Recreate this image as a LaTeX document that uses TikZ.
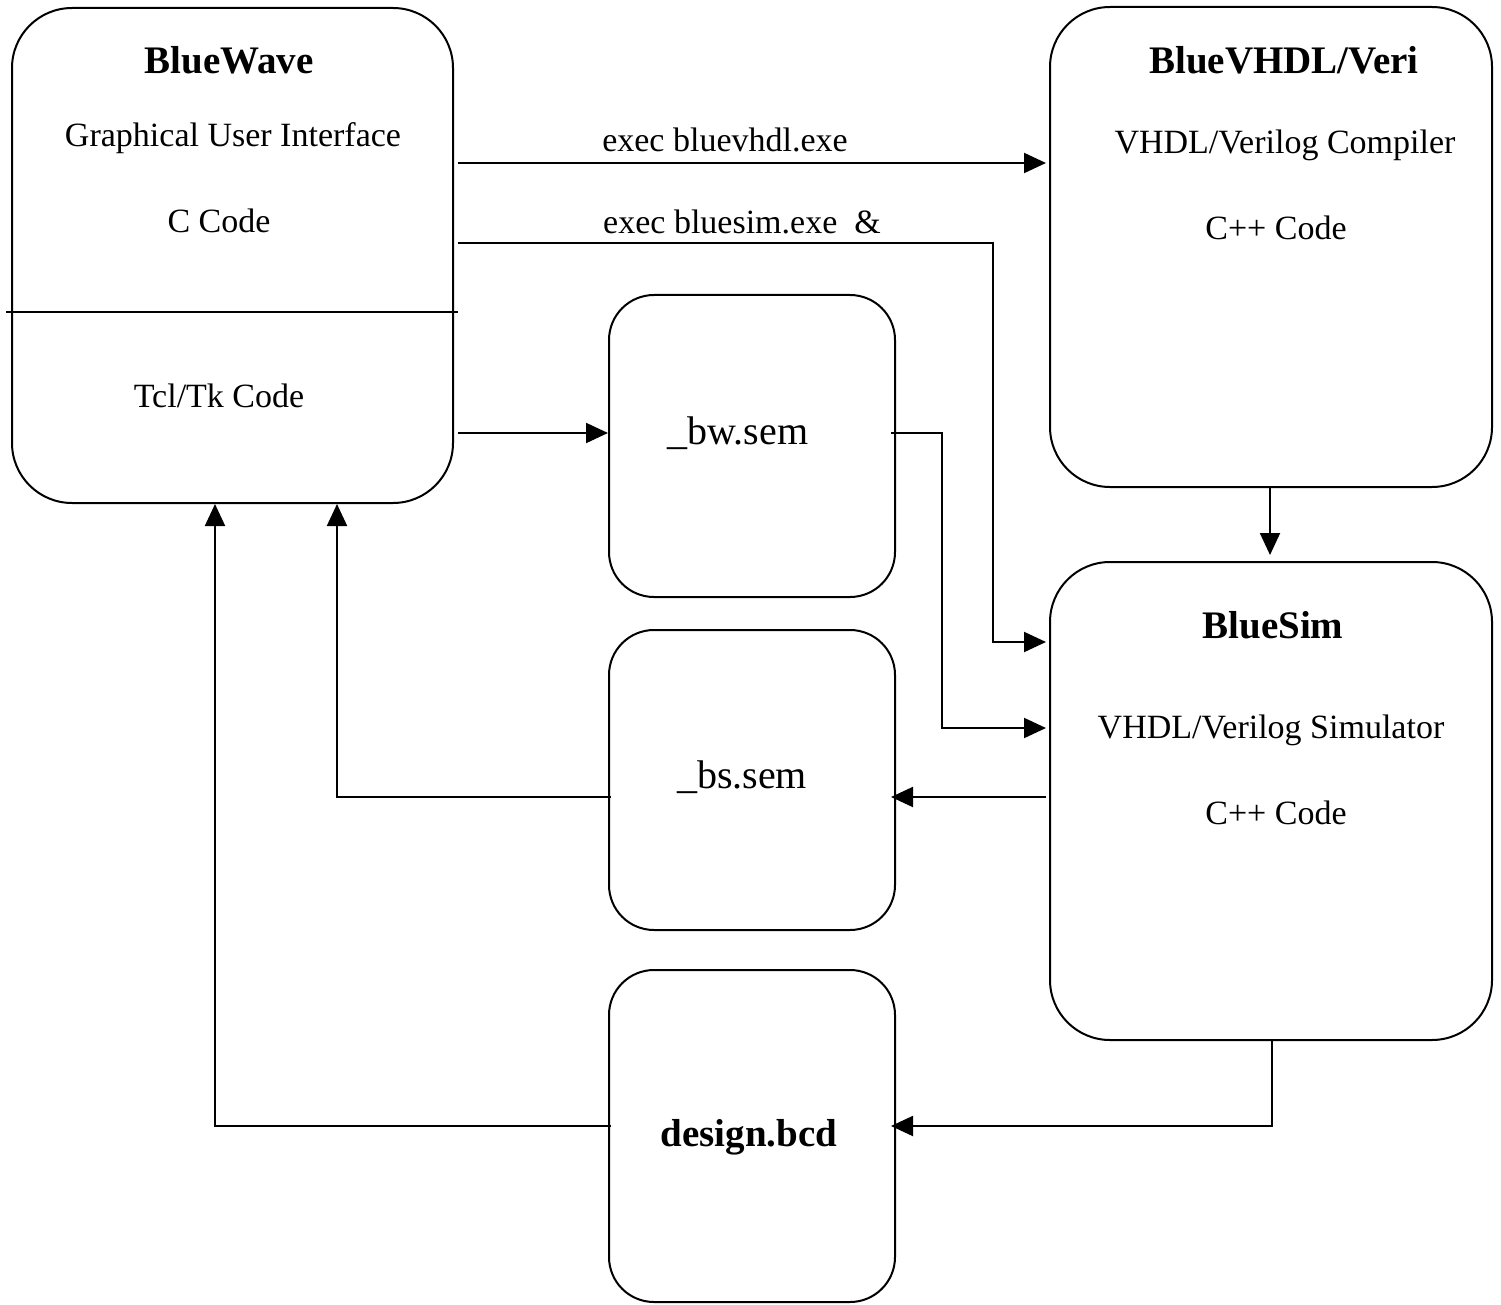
\documentclass[tikz,border=0pt]{standalone}
\usepackage{fontspec}
\setmainfont{Liberation Serif}
\usetikzlibrary{arrows.meta,calc}
\begin{document}
\begin{tikzpicture}[x=1pt,y=-1pt,
  box/.style={draw,line width=2pt,inner sep=0pt,rectangle},
  bigbox/.style={box,rounded corners=60pt},
  smallbox/.style={box,rounded corners=45pt},
  txt/.style={font=\fontsize{34}{40}\selectfont,anchor=base,inner sep=0pt},
  ttl/.style={font=\fontsize{39}{46}\selectfont\bfseries,anchor=base,inner sep=0pt},
  fil/.style={font=\fontsize{40}{47}\selectfont,anchor=base,inner sep=0pt},
  conn/.style={line width=2pt},
  arr/.style={conn,-{Triangle[length=22pt,width=20pt]}}
]
\useasboundingbox (0,0) rectangle (1501,1305);

% boxes
\node[bigbox,minimum width=441pt,minimum height=495pt] (wave) at (232.5,255.5) {};
\node[bigbox,minimum width=442pt,minimum height=480pt] (veri) at (1271,247) {};
\node[bigbox,minimum width=442pt,minimum height=478pt] (sim) at (1271,801) {};
\node[smallbox,minimum width=286pt,minimum height=302pt] (bw) at (752,446) {};
\node[smallbox,minimum width=286pt,minimum height=300pt] (bs) at (752,780) {};
\node[smallbox,minimum width=286pt,minimum height=332pt] (bcd) at (752,1136) {};

% texts
\node[ttl] (waveT) at (229,74) {BlueWave};
\node[txt] (waveG) at (233,147) {Graphical User Interface};
\node[txt] (waveC) at (219,233) {C Code};
\node[txt] (waveK) at (219,407) {Tcl/Tk Code};
\node[ttl] (veriT) at (1284,74) {BlueVHDL/Veri};
\node[txt] (veriV) at (1285,154) {VHDL/Verilog Compiler};
\node[txt] (veriC) at (1276,240) {C++ Code};
\node[ttl] (simT) at (1273,638) {BlueSim};
\node[txt] (simV) at (1271,738) {VHDL/Verilog Simulator};
\node[txt] (simC) at (1276,824) {C++ Code};
\node[fil] (bwT) at (738,444) {\_bw.sem};
\node[fil] (bsT) at (742,788) {\_bs.sem};
\node[fil,font=\fontsize{39}{46}\selectfont\bfseries] (bcdT) at (749,1146) {design.bcd};
\node[txt] (l1) at (725,152) {exec bluevhdl.exe};
\node[txt] (l2) at (742,234) {exec bluesim.exe~~\&};

% divider
\draw[conn] ($(wave.west |- 0,312)+(-5,0)$) -- ($(wave.east |- 0,312)+(4,0)$);

% connectors
\draw[arr] ($(wave.east |- 0,163)+(4,0)$) -- ($(veri.west |- 0,163)+(-3,0)$);
\draw[arr] ($(wave.east |- 0,243)+(4,0)$) -- (993,243) -- (993,642) -- ($(sim.west |- 0,642)+(-3,0)$);
\draw[arr] ($(wave.east |- 0,433)+(4,0)$) -- (bw.west |- 0,433);
\draw[arr] ($(bw.east |- 0,433)+(-5,0)$) -- (942,433) -- (942,728) -- ($(sim.west |- 0,728)+(-3,0)$);
\draw[arr] (veri.south -| 1270,0) -- ($(sim.north -| 1270,0)+(0,-6)$);
\draw[arr] ($(sim.west |- 0,797)+(-3,0)$) -- ($(bs.east |- 0,797)+(-5,0)$);
\draw[arr] ($(bs.west |- 0,797)+(3,0)$) -- (337,797) -- (wave.south -| 337,0);
\draw[arr] (sim.south -| 1272,0) -- (1272,1126) -- ($(bcd.east |- 0,1126)+(-5,0)$);
\draw[arr] ($(bcd.west |- 0,1126)+(3,0)$) -- (215,1126) -- (wave.south -| 215,0);
\end{tikzpicture}
\end{document}
